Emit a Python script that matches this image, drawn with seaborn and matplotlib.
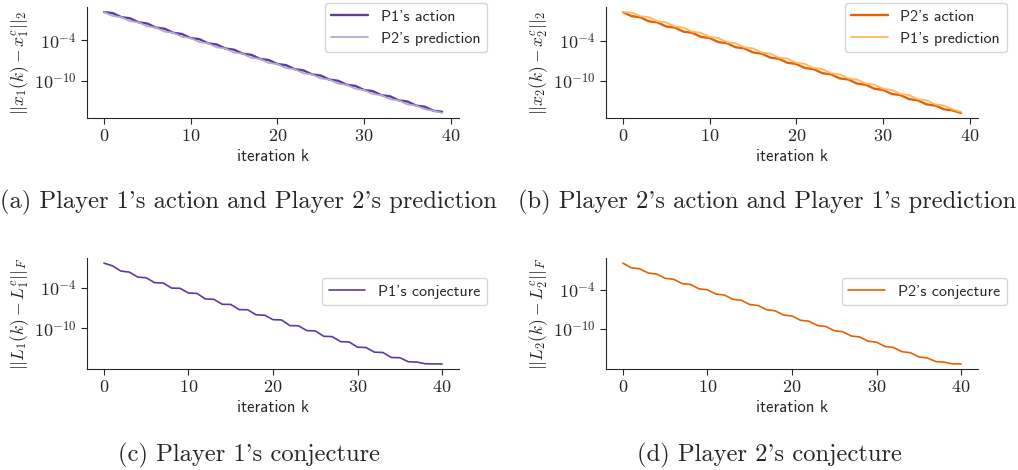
import seaborn as sns
import matplotlib.pyplot as plt
import numpy as np
from matplotlib.ticker import FixedLocator, NullLocator, FuncFormatter

# iterations
k_x = list(range(40))
k_L = list(range(41))

# log10 of the errors
x1_action = [0.20, 0.05, -0.55, -0.72, -1.32, -1.50, -2.10, -2.27, -2.87, -3.05,
             -3.65, -3.82, -4.42, -4.60, -5.20, -5.37, -5.97, -6.14, -6.74, -6.91,
             -7.50, -7.67, -8.27, -8.44, -9.04, -9.21, -9.81, -9.98, -10.58, -10.75,
             -11.35, -11.52, -12.12, -12.29, -12.89, -13.06, -13.66, -13.83, -14.43, -14.58]
x1_pred = [0.20, -0.38, -0.55, -1.15, -1.32, -1.92, -2.10, -2.70, -2.87, -3.47,
           -3.65, -4.25, -4.42, -5.02, -5.20, -5.80, -5.97, -6.57, -6.74, -7.34,
           -7.50, -8.10, -8.27, -8.87, -9.04, -9.64, -9.81, -10.41, -10.58, -11.18,
           -11.35, -11.95, -12.12, -12.72, -12.89, -13.49, -13.66, -14.20, -14.43, -14.75]
x2_action = [0.22, -0.38, -0.55, -1.15, -1.32, -1.92, -2.09, -2.69, -2.86, -3.46,
             -3.63, -4.23, -4.40, -5.00, -5.17, -5.77, -5.94, -6.54, -6.71, -7.31,
             -7.48, -8.08, -8.25, -8.85, -9.02, -9.62, -9.79, -10.39, -10.56, -11.16,
             -11.33, -11.93, -12.10, -12.70, -12.87, -13.47, -13.64, -14.20, -14.37, -14.75]
x2_pred = [0.22, 0.15, -0.38, -0.55, -1.15, -1.32, -1.92, -2.09, -2.69, -2.86,
           -3.46, -3.63, -4.23, -4.40, -5.00, -5.17, -5.77, -5.94, -6.54, -6.71,
           -7.31, -7.48, -8.08, -8.25, -8.85, -9.02, -9.62, -9.79, -10.39, -10.56,
           -11.16, -11.33, -11.93, -12.10, -12.70, -12.87, -13.47, -13.64, -14.20, -14.60]
L1_conj = [-0.28, -0.68, -1.47, -1.62, -2.36, -2.47, -3.20, -3.25, -4.00, -4.04,
           -4.74, -4.80, -5.63, -5.68, -6.43, -6.45, -7.22, -7.24, -8.00, -8.05,
           -8.72, -8.76, -9.61, -9.63, -10.35, -10.40, -11.20, -11.25, -12.00, -12.05,
           -12.83, -12.88, -13.57, -13.62, -14.37, -14.40, -15.00, -15.05, -15.30, -15.32, -15.33]
L2_conj = [0.07, -0.65, -0.80, -1.45, -1.60, -2.25, -2.40, -3.05, -3.20, -3.85,
           -4.00, -4.65, -4.80, -5.45, -5.60, -6.25, -6.40, -7.05, -7.20, -7.85,
           -8.00, -8.65, -8.80, -9.45, -9.60, -10.25, -10.40, -11.05, -11.20, -11.85,
           -12.00, -12.65, -12.80, -13.45, -13.60, -14.25, -14.40, -14.95, -15.05, -15.30, -15.32]

captions = ["(a) Player 1's action and Player 2's prediction",
            "(b) Player 2's action and Player 1's prediction",
            "(c) Player 1's conjecture",
            "(d) Player 2's conjecture"]

sns.set_style("ticks")
plt.rcParams['mathtext.fontset'] = 'cm'
plt.rcParams['font.family'] = ['cmss10', 'DejaVu Sans']
plt.rcParams['axes.unicode_minus'] = False

# PuOr brewer colours
purple, purple_l = '#5e3c99', '#b2abd2'
orange, orange_l = '#e66101', '#fdb863'

fig = plt.figure(figsize = (10.18, 4.70), dpi = 100)
w, h = 0.3654, 0.236
ax_a = fig.add_axes([0.0855, 0.749, w, h])
ax_b = fig.add_axes([0.5953, 0.749, w, h])
ax_c = fig.add_axes([0.0855, 0.2149, w, h])
ax_d = fig.add_axes([0.5953, 0.2149, w, h])

leg_font = {'family': 'cmss10', 'size': 11.5}

def style(ax, ylab, anchor):
    ax.set_yscale('log')
    ax.yaxis.set_major_locator(FixedLocator([1e-4, 1e-10]))
    ax.yaxis.set_minor_locator(NullLocator())
    ax.yaxis.set_major_formatter(FuncFormatter(
        lambda v, p: r'$10^{%d}$' % int(round(np.log10(v)))))
    ax.set_xticks([0, 10, 20, 30, 40])
    ax.xaxis.set_major_formatter(FuncFormatter(lambda v, p: r'$%d$' % v))
    ax.tick_params(labelsize = 13, length = 4)
    ax.set_ylabel(ylab, fontsize = 12.5, labelpad = 2)
    ax.set_xlabel('iteration k', fontsize = 12, family = 'cmss10', labelpad = 3)
    ax.legend(loc = 'upper right', bbox_to_anchor = anchor, borderaxespad = 0,
              prop = leg_font, handlelength = 2.3)
    sns.despine(ax = ax)

sns.lineplot(x = k_x, y = 10.0 ** np.array(x1_action), ax = ax_a, color = purple,
             lw = 1.7, label = "P1's action")
sns.lineplot(x = k_x, y = 10.0 ** np.array(x1_pred), ax = ax_a, color = purple_l,
             lw = 1.3, label = "P2's prediction")
style(ax_a, r'$||x_1(k) - x_1^c||_2$', (1.075, 1.036))

sns.lineplot(x = k_x, y = 10.0 ** np.array(x2_action), ax = ax_b, color = orange,
             lw = 1.7, label = "P2's action")
sns.lineplot(x = k_x, y = 10.0 ** np.array(x2_pred), ax = ax_b, color = orange_l,
             lw = 1.3, label = "P1's prediction")
style(ax_b, r'$||x_2(k) - x_2^c||_2$', (1.077, 1.036))

sns.lineplot(x = k_L, y = 10.0 ** np.array(L1_conj), ax = ax_c, color = purple,
             lw = 1.2, label = "P1's conjecture")
style(ax_c, r'$||L_1(k) - L_1^c||_F$', (1.075, 0.82))

sns.lineplot(x = k_L, y = 10.0 ** np.array(L2_conj), ax = ax_d, color = orange,
             lw = 1.2, label = "P2's conjecture")
style(ax_d, r'$||L_2(k) - L_2^c||_F$', (1.077, 0.82))

cap_y = [0.570, 0.570, 0.030, 0.030]
cap_x = [0.244, 0.754, 0.245, 0.756]
for cx, cy, txt in zip(cap_x, cap_y, captions):
    fig.text(cx, cy, txt, ha = 'center', va = 'center', family = 'cmr10', fontsize = 17.7)

plt.savefig('out.png', dpi = 100)
